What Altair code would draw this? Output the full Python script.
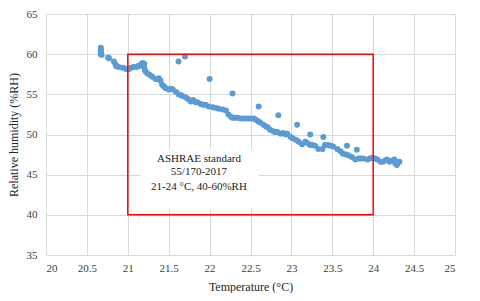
import altair as alt
import pandas as pd

temp = [20.67, 20.67, 20.67, 20.67, 20.67, 20.68, 20.76, 20.77, 20.83, 20.85, 20.86, 20.89,
        20.94, 20.97, 21.00, 21.02, 21.04, 21.07, 21.10, 21.12, 21.14, 21.16, 21.18, 21.20,
        21.20, 21.21, 21.22, 21.24, 21.27, 21.30, 21.34, 21.36, 21.38, 21.40, 21.42, 21.44,
        21.46, 21.50, 21.53, 21.55, 21.59, 21.62, 21.65, 21.67, 21.71, 21.74, 21.77, 21.80,
        21.83, 21.85, 21.89, 21.92, 21.95, 21.99, 22.04, 22.08, 22.11, 22.16, 22.20, 22.23,
        22.26, 22.28, 22.31, 22.34, 22.38, 22.41, 22.45, 22.48, 22.51, 22.54, 22.57, 22.60,
        22.62, 22.66, 22.69, 22.71, 22.74, 22.78, 22.80, 22.83, 22.87, 22.90, 22.93, 22.95,
        22.99, 23.02, 23.06, 23.09, 23.13, 23.17, 23.20, 23.23, 23.26, 23.29, 23.33, 23.38,
        23.41, 23.45, 23.48, 23.51, 23.56, 23.60, 23.63, 23.67, 23.70, 23.74, 23.78, 23.82,
        23.85, 23.88, 23.93, 23.96, 23.99, 24.02, 24.05, 24.09, 24.12, 24.15, 24.17, 24.20,
        24.21, 24.24, 24.26, 24.27, 24.29, 24.30, 24.32,
        21.62, 21.70, 22.00, 22.28, 22.60, 22.84, 23.07, 23.23, 23.39, 23.68, 23.80]
rh = [60.8, 60.6, 60.4, 60.2, 60.0, 59.9, 59.6, 59.5, 59.1, 58.7, 58.5, 58.4,
      58.3, 58.2, 58.1, 58.2, 58.3, 58.4, 58.4, 58.5, 58.5, 58.7, 58.9, 58.8,
      58.4, 58.0, 57.8, 57.6, 57.4, 57.2, 56.9, 56.9, 57.0, 56.7, 56.2, 56.0,
      55.8, 55.6, 55.7, 55.6, 55.3, 55.0, 54.9, 54.8, 54.6, 54.4, 54.1, 54.3,
      54.0, 54.0, 53.8, 53.7, 53.7, 53.5, 53.4, 53.3, 53.2, 53.1, 53.0, 52.5,
      52.2, 52.1, 52.1, 52.1, 52.0, 52.0, 52.0, 52.0, 52.0, 52.0, 51.8, 51.6,
      51.5, 51.2, 51.0, 50.9, 50.6, 50.4, 50.3, 50.3, 50.1, 50.2, 50.0, 50.1,
      49.7, 49.5, 49.3, 49.1, 48.8, 49.1, 48.9, 48.7, 48.7, 48.6, 48.2, 48.2,
      48.7, 48.7, 48.6, 48.5, 48.2, 47.9, 47.6, 47.5, 47.4, 47.2, 46.9, 47.0,
      47.0, 47.0, 46.9, 47.0, 47.1, 47.0, 46.9, 46.6, 46.6, 46.8, 46.9, 46.6,
      46.7, 46.8, 46.9, 46.4, 46.2, 46.5, 46.6,
      59.1, 59.7, 56.9, 55.1, 53.5, 52.4, 51.2, 50.0, 49.7, 48.6, 48.1]

box_t = [21, 24]
box_rh = [40, 60]
note_lines = ["ASHRAE standard", "55/170-2017", "21-24 °C, 40-60%RH"]
note_rh = [47.0, 45.3, 43.5]
note_t = 21.87
note_bg_t = [21.15, 22.6]
note_bg_rh = [40.75, 48.2]

x_ticks = [20, 20.5, 21, 21.5, 22, 22.5, 23, 23.5, 24, 24.5, 25]
y_ticks = [35, 40, 45, 50, 55, 60, 65]

df = pd.DataFrame({"t": temp, "rh": rh})
box_df = pd.DataFrame({"t": [box_t[0]], "t2": [box_t[1]], "rh": [box_rh[0]], "rh2": [box_rh[1]]})
bg_df = pd.DataFrame({"t": [note_bg_t[0]], "t2": [note_bg_t[1]], "rh": [note_bg_rh[0]], "rh2": [note_bg_rh[1]]})
note_df = pd.DataFrame({"t": [note_t] * 3, "rh": note_rh, "txt": note_lines})

FONT = "Liberation Serif"

xs = alt.Scale(domain=[20, 25], nice=False, zero=False)
ys = alt.Scale(domain=[35, 65], nice=False, zero=False)

X = alt.X("t:Q", scale=xs, title="Temperature (°C)",
          axis=alt.Axis(values=x_ticks, format="~g", labelFont=FONT, labelPadding=7, titlePadding=8))
Y = alt.Y("rh:Q", scale=ys, title="Relative humidity (%RH)",
          axis=alt.Axis(values=y_ticks, format="~g", labelFont=FONT, labelPadding=9, titlePadding=6))

points = alt.Chart(df).mark_circle(size=36, color="#5B9BD5", opacity=1).encode(x=X, y=Y)

bg = alt.Chart(bg_df).mark_rect(color="white").encode(
    x=X, x2="t2:Q", y=Y, y2="rh2:Q")

box = alt.Chart(box_df).mark_rect(filled=False, stroke="#FF0000", strokeWidth=1.5).encode(
    x=X, x2="t2:Q", y=Y, y2="rh2:Q")

note = alt.Chart(note_df).mark_text(font=FONT, fontSize=11, color="#222222", align="center",
                                    baseline="middle").encode(
    x=X, y=Y, text="txt:N")

chart = alt.layer(bg, points, box, note).properties(
    width=409, height=241,
    autosize=alt.AutoSizeParams(type="none"),
    padding={"left": 38, "top": 6, "right": 15, "bottom": 38},
).configure_view(stroke=None).configure_axis(
    grid=True, gridColor="#D9D9D9", gridWidth=1, domain=False, ticks=False,
    labelFont=FONT, labelFontSize=11, labelColor="#404040",
    titleFont=FONT, titleFontSize=12, titleColor="#262626", titleFontWeight="normal",
)

chart.save("out.html", embed_options={"renderer": "svg", "actions": False})
